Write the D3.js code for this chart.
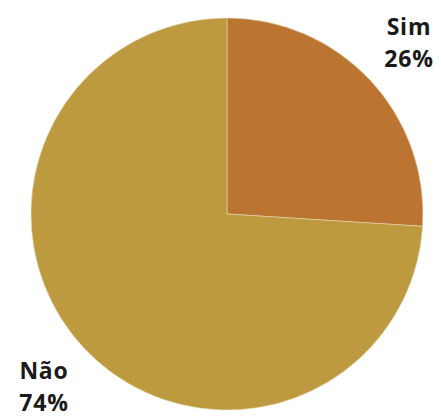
<!DOCTYPE html>
<html>
<head>
<meta charset="utf-8">
<script src="https://cdn.jsdelivr.net/npm/d3@7"></script>
<style>
  body { margin: 0; background: #fff; }
  text { font-family: "Open Sans", sans-serif; font-weight: 700; fill: #1a1a1a; letter-spacing: 0.8px; }
</style>
</head>
<body>
<script>
// data
var categories = ["Sim", "Não"];
var values = [26, 74];
var colors = ["#BC7530", "#BD9A40"];

var width = 441, height = 416;
var cx = 227, cy = 214, radius = 196;

var svg = d3.select("body").append("svg")
    .attr("width", width)
    .attr("height", height);

var g = svg.append("g")
    .attr("transform", "translate(" + cx + "," + cy + ")");

var pie = d3.pie().sort(null).value(function(d) { return d; });
var arc = d3.arc().innerRadius(0).outerRadius(radius);

var color = d3.scaleOrdinal().domain(categories).range(colors);

var arcs = pie(values);

g.selectAll("path")
    .data(arcs)
    .enter().append("path")
    .attr("d", arc)
    .attr("fill", function(d, i) { return color(categories[i]); })
    .attr("stroke", "#e8d9b0")
    .attr("stroke-width", 0.6);

// labels (placed outside the pie, as in the original)
var labelPos = [[409, 35], [44, 379]];
arcs.forEach(function(d, i) {
  var t = svg.append("text")
      .attr("text-anchor", "middle")
      .attr("font-size", 23)
      .attr("x", labelPos[i][0])
      .attr("y", labelPos[i][1]);
  t.append("tspan").attr("x", labelPos[i][0]).text(categories[i]);
  t.append("tspan").attr("x", labelPos[i][0]).attr("dy", 32)
      .text(Math.round((d.endAngle - d.startAngle) / (2 * Math.PI) * 100) + "%");
});
</script>
</body>
</html>
